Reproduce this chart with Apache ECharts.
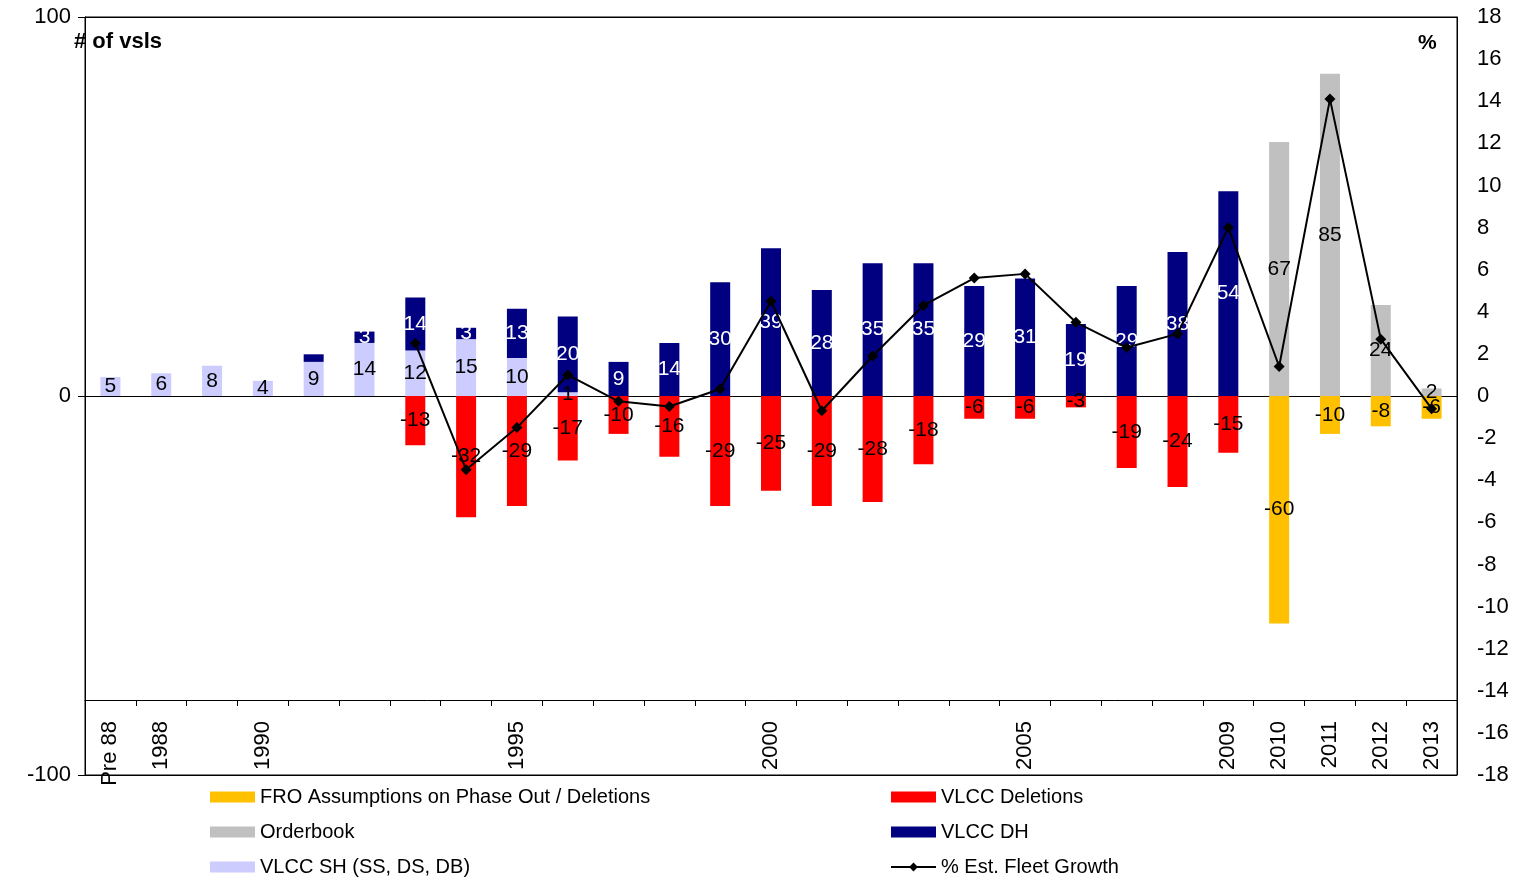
<!DOCTYPE html>
<html>
<head>
<meta charset="utf-8">
<script src="https://cdn.jsdelivr.net/npm/echarts@6/dist/echarts.min.js"></script>
<style>
html,body{margin:0;padding:0;background:#fff;}
#chart{width:1523px;height:880px;}
</style>
</head>
<body>
<div id="chart"></div>
<script>
const categories = ['Pre 88','1988','1989','1990','1991','1992','1993','1994','1995','1996','1997','1998','1999','2000','2001','2002','2003','2004','2005','2006','2007','2008','2009','2010','2011','2012','2013'];
const shownLabels = ['Pre 88','1988','1990','1995','2000','2005','2009','2010','2011','2012','2013'];
const froPhaseOut = [null,null,null,null,null,null,null,null,null,null,null,null,null,null,null,null,null,null,null,null,null,null,null,-60,-10,-8,-6];
const orderbook   = [null,null,null,null,null,null,null,null,null,null,null,null,null,null,null,null,null,null,null,null,null,null,null,67,85,24,2];
const vlccSH      = [5,6,8,4,9,14,12,15,10,1,null,null,null,null,null,null,null,null,null,null,null,null,null,null,null,null,null];
const vlccDH      = [null,null,null,null,2,3,14,3,13,20,9,14,30,39,28,35,35,29,31,19,29,38,54,null,null,null,null];
const dhNoLabel   = ['1991'];
const vlccDeletions = [null,null,null,null,null,null,-13,-32,-29,-17,-10,-16,-29,-25,-29,-28,-18,-6,-6,-3,-19,-24,-15,null,null,null,null];
const fleetGrowth = [null,null,null,null,null,null,2.5,-3.5,-1.5,1.0,-0.25,-0.5,0.33,4.5,-0.7,1.9,4.3,5.6,5.8,3.5,2.3,2.95,8.0,1.4,14.1,2.7,-0.6];
const leftTicks = {min:-100, max:100, interval:100};
const rightTicks = {min:-18, max:18, interval:2};

const FONT = 'Liberation Sans, Arial, sans-serif';

function barLabel(color){
  return {show:true, position:'inside', color:color, fontSize:21, fontFamily:FONT,
    formatter: p => (p.value === null || p.value === undefined) ? '' : String(p.value)};
}
const barWidth = 20;
const legendText = {fontSize:20, fontFamily:FONT, color:'#000', lineHeight:22};

const chart = echarts.init(document.getElementById('chart'));
chart.setOption({
  animation:false,
  backgroundColor:'#fff',
  textStyle:{fontFamily:FONT},
  grid:{left:85, right:66, top:17, bottom:105, show:true, borderColor:'#000', borderWidth:1, backgroundColor:'transparent'},
  graphic:[
    {type:'text', left:74, top:31, style:{text:'# of vsls', font:'bold 22px '+FONT, fill:'#000'}},
    {type:'text', left:1418, top:33, style:{text:'%', font:'bold 21px '+FONT, fill:'#000'}}
  ],
  legend:[
    {orient:'vertical', left:210, top:786, padding:0, itemWidth:45, itemHeight:11, itemGap:13,
     textStyle:legendText,
     data:[{name:'FRO Assumptions on Phase Out / Deletions', icon:'rect'},{name:'Orderbook', icon:'rect'},{name:'VLCC SH (SS, DS, DB)', icon:'rect'}]},
    {orient:'vertical', left:890, top:786, padding:0, itemWidth:45, itemHeight:11, itemGap:13,
     textStyle:legendText,
     data:[{name:'VLCC Deletions', icon:'rect'},{name:'VLCC DH', icon:'rect'},{name:'% Est. Fleet Growth'}]}
  ],
  xAxis:{
    type:'category', data:categories, position:'bottom', offset:-75,
    boundaryGap:true,
    axisLine:{show:true, onZero:false, lineStyle:{color:'#000', width:1}},
    axisTick:{show:true, interval:0, length:6, lineStyle:{color:'#000'}},
    axisLabel:{interval:0, rotate:90, margin:21, fontSize:22, color:'#000', fontFamily:FONT,
      formatter: v => shownLabels.includes(v) ? v : ''},
    splitLine:{show:false}
  },
  yAxis:[
    {type:'value', min:leftTicks.min, max:leftTicks.max, interval:leftTicks.interval, position:'left',
     axisLine:{show:true, lineStyle:{color:'#000'}},
     axisTick:{show:true, length:7, lineStyle:{color:'#000'}},
     axisLabel:{fontSize:22, color:'#000', margin:14, fontFamily:FONT},
     splitLine:{show:true, lineStyle:{color:'#000', width:1}}},
    {type:'value', min:rightTicks.min, max:rightTicks.max, interval:rightTicks.interval, position:'right',
     axisLine:{show:true, lineStyle:{color:'#000'}},
     axisTick:{show:false},
     axisLabel:{fontSize:22, color:'#000', margin:20, fontFamily:FONT},
     splitLine:{show:false}}
  ],
  series:[
    {name:'VLCC SH (SS, DS, DB)', type:'bar', stack:'v', barWidth:barWidth, data:vlccSH,
     itemStyle:{color:'#CCCCFF'}, label:barLabel('#000')},
    {name:'VLCC DH', type:'bar', stack:'v', barWidth:barWidth,
     data:vlccDH.map((v,i) => dhNoLabel.includes(categories[i]) ? {value:v, label:{show:false}} : v),
     itemStyle:{color:'#000080'}, label:barLabel('#fff')},
    {name:'Orderbook', type:'bar', stack:'v', barWidth:barWidth, data:orderbook,
     itemStyle:{color:'#C0C0C0'}, label:barLabel('#000')},
    {name:'VLCC Deletions', type:'bar', stack:'v', barWidth:barWidth, data:vlccDeletions,
     itemStyle:{color:'#FF0000'}, label:barLabel('#000')},
    {name:'FRO Assumptions on Phase Out / Deletions', type:'bar', stack:'v', barWidth:barWidth, data:froPhaseOut,
     itemStyle:{color:'#FFC000'}, label:barLabel('#000')},
    {name:'% Est. Fleet Growth', type:'line', yAxisIndex:1, data:fleetGrowth, z:10,
     symbol:'diamond', symbolSize:11, showAllSymbol:true,
     itemStyle:{color:'#000'}, lineStyle:{color:'#000', width:2}}
  ]
});
</script>
</body>
</html>
